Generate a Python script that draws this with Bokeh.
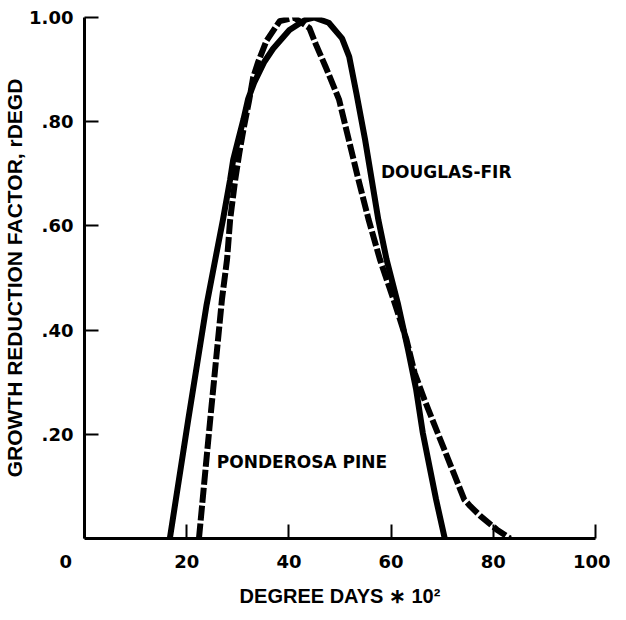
from bokeh.plotting import figure
from bokeh.models import Range1d, FixedTicker, ColumnDataSource
from bokeh.core.properties import value
from bokeh.embed import file_html
from bokeh.resources import INLINE

# Douglas-fir (solid)
fir_x = [16.7, 20.3, 23.9, 25.6, 27.1, 28.5, 29.1, 30.1, 31.1, 32.0, 33.2, 35.2, 36.9, 40.1, 43.3, 44.9,
         47.8, 50.4, 51.8, 53.2, 54.9, 56.2, 57.5, 59.1, 61.3, 63.3, 64.9, 66.2, 67.5, 68.8, 70.5]
fir_y = [0.0, 0.228, 0.449, 0.536, 0.612, 0.689, 0.727, 0.766, 0.804, 0.843, 0.875, 0.915, 0.940, 0.976, 0.996, 1.0,
         0.99, 0.96, 0.925, 0.855, 0.766, 0.689, 0.612, 0.536, 0.452, 0.363, 0.286, 0.203, 0.139, 0.075, 0.0]

# Ponderosa pine (dashed)
pine_x = [22.4, 24.6, 26.9, 27.9, 28.5, 29.5, 30.3, 31.2, 32.2, 33.0, 34.0, 35.6, 38.2, 41.0, 44.0, 45.3,
          47.2, 49.8, 51.7, 53.6, 55.6, 57.8, 60.6, 63.0, 64.6, 66.5, 69.1, 71.7, 74.3, 75.5, 77.5, 80.7, 83.3]
pine_y = [0.0, 0.228, 0.459, 0.536, 0.612, 0.689, 0.74, 0.79, 0.84, 0.885, 0.915, 0.955, 0.993, 1.0, 0.98, 0.948,
          0.905, 0.843, 0.766, 0.689, 0.612, 0.536, 0.455, 0.382, 0.318, 0.267, 0.203, 0.139, 0.075, 0.062, 0.043, 0.017, 0.0]

x_ticks = [0, 20, 40, 60, 80, 100]
x_tick_labels = ["0\u2007\u2007\u2007", "20", "40", "60", "80", "100"]
y_ticks = [0.2, 0.4, 0.6, 0.8, 1.0]
y_tick_labels = [".20", ".40", ".60", ".80", "1.00"]

label_text = ["DOUGLAS-FIR", "PONDEROSA PINE"]
label_x = [58.0, 25.9]
label_y = [0.704, 0.146]

p = figure(width=610, height=610, output_backend="svg", toolbar_location=None,
           x_range=Range1d(0, 100), y_range=Range1d(0, 1),
           min_border_left=78, min_border_top=17, min_border_right=15, min_border_bottom=72)
p.outline_line_color = None
p.grid.visible = False
p.background_fill_color = "white"
p.border_fill_color = "white"

p.line(fir_x, fir_y, line_color="black", line_width=6, line_join="round")
p.line(pine_x, pine_y, line_color="black", line_width=6, line_dash="15 3", line_join="round")

src = ColumnDataSource(dict(x=label_x, y=label_y, t=label_text))
p.text(x="x", y="y", text="t", source=src, text_font=value("DejaVu Sans"), text_font_style="bold",
       text_font_size="17px", text_align="left", text_baseline="middle", text_color="black")

for ax in (p.xaxis[0], p.yaxis[0]):
    ax.axis_line_width = 3
    ax.axis_line_color = "black"
    ax.major_tick_line_width = 2
    ax.major_tick_line_color = "black"
    ax.major_tick_in = 14
    ax.major_tick_out = 0
    ax.minor_tick_line_color = None
    ax.major_label_text_font = "DejaVu Sans"
    ax.major_label_text_font_style = "bold"
    ax.major_label_text_font_size = "18px"
    ax.major_label_text_color = "black"
    ax.axis_label_text_font = "Liberation Sans"
    ax.axis_label_text_font_style = "bold"
    ax.axis_label_text_color = "black"

p.xaxis.ticker = FixedTicker(ticks=x_ticks)
p.xaxis.major_label_overrides = {v: s for v, s in zip(x_ticks, x_tick_labels)}
p.yaxis.ticker = FixedTicker(ticks=y_ticks)
p.yaxis.major_label_overrides = {v: s for v, s in zip(y_ticks, y_tick_labels)}
p.xaxis.major_label_standoff = 12
p.yaxis.major_label_standoff = 11
p.xaxis.axis_label = "DEGREE DAYS \u2217 10\u00b2"
p.yaxis.axis_label = "GROWTH REDUCTION FACTOR, rDEGD"
p.xaxis.axis_label_text_font_size = "20px"
p.yaxis.axis_label_text_font_size = "21px"
p.xaxis.axis_label_standoff = 10
p.yaxis.axis_label_standoff = 0

open("out.html", "w").write(file_html(p, INLINE))
